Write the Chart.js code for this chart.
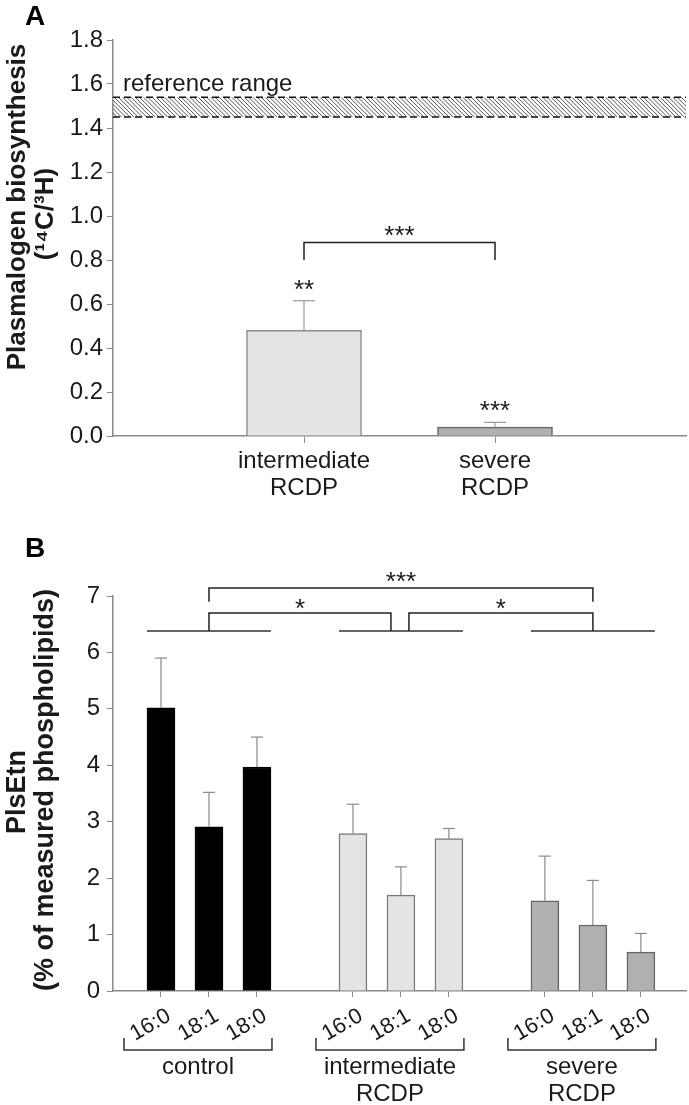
<!DOCTYPE html>
<html>
<head>
<meta charset="utf-8">
<script src="https://cdn.jsdelivr.net/npm/chart.js@4.4.1/dist/chart.umd.min.js"></script>
<style>
  html, body { margin: 0; padding: 0; background: #fff; }
  #wrap { position: relative; width: 689px; height: 1105px; }
  .panel { position: absolute; left: 0; width: 689px; }
</style>
</head>
<body>
<div id="wrap">
  <div class="panel" style="top:0;height:530px"><canvas id="chartA"></canvas></div>
  <div class="panel" style="top:530px;height:575px"><canvas id="chartB"></canvas></div>
</div>
<script>
// ---- panel A data ----
const categoriesA = [['intermediate', 'RCDP'], ['severe', 'RCDP']];
const valuesA = [0.48, 0.04];
const errorsA = [0.135, 0.022];
const starsA = ['**', '***'];
const yTicksA = [0, 0.2, 0.4, 0.6, 0.8, 1.0, 1.2, 1.4, 1.6, 1.8];
const refRange = [1.45, 1.54];

// ---- panel B data ----
const acylChains = ['16:0', '18:1', '18:0'];
const groupsB = [['control'], ['intermediate', 'RCDP'], ['severe', 'RCDP']];
const controlVals = [5.02, 2.91, 3.97];
const controlErr = [0.88, 0.61, 0.53];
const intermVals = [2.79, 1.70, 2.70];
const intermErr = [0.52, 0.50, 0.18];
const severeVals = [1.60, 1.17, 0.69];
const severeErr = [0.79, 0.79, 0.33];
const yTicksB = [0, 1, 2, 3, 4, 5, 6, 7];

const FONT = '"Liberation Sans", Arial, Helvetica, sans-serif';
const TXT = '#1a1a1a';
const AXIS = '#8a8a8a';

function stars(ctx, text, x, yc, size) {
  ctx.save();
  ctx.font = size + 'px ' + FONT;
  ctx.fillStyle = TXT;
  ctx.textAlign = 'center';
  ctx.textBaseline = 'alphabetic';
  const m = ctx.measureText(text);
  ctx.fillText(text, x, yc - (m.actualBoundingBoxDescent - m.actualBoundingBoxAscent) / 2);
  ctx.restore();
}

function vTitle(ctx, text, xBase, yc, size) {
  ctx.save();
  ctx.translate(xBase, yc);
  ctx.rotate(-Math.PI / 2);
  ctx.font = 'bold ' + size + 'px ' + FONT;
  ctx.fillStyle = TXT;
  ctx.textAlign = 'center';
  ctx.textBaseline = 'alphabetic';
  ctx.fillText(text, 0, 0);
  ctx.restore();
}

function panelLetter(ctx, text, x, y) {
  ctx.save();
  ctx.font = 'bold 28px ' + FONT;
  ctx.fillStyle = '#000';
  ctx.textBaseline = 'alphabetic';
  ctx.fillText(text, x, y);
  ctx.restore();
}

function line(ctx, pts, color, w) {
  ctx.save();
  ctx.strokeStyle = color;
  ctx.lineWidth = w;
  ctx.beginPath();
  pts.forEach((p, i) => i ? ctx.lineTo(p[0], p[1]) : ctx.moveTo(p[0], p[1]));
  ctx.stroke();
  ctx.restore();
}

function errorBars(chart, errs, capW, color) {
  const ctx = chart.ctx, ys = chart.scales.y;
  chart.data.datasets.forEach((ds, d) => {
    chart.getDatasetMeta(d).data.forEach((bar, i) => {
      const top = ys.getPixelForValue(ds.data[i].y + errs[d][i]);
      line(ctx, [[bar.x, bar.y], [bar.x, top]], color, 1.2);
      line(ctx, [[bar.x - capW / 2, top], [bar.x + capW / 2, top]], color, 1.2);
    });
  });
}

// ---- panel A ----
const panelA = {
  id: 'panelA',
  beforeDatasetsDraw(chart) {
    const ctx = chart.ctx, ys = chart.scales.y, a = chart.chartArea;
    const y1 = ys.getPixelForValue(refRange[1]), y0 = ys.getPixelForValue(refRange[0]);
    ctx.save();
    ctx.beginPath();
    ctx.rect(a.left, y1, a.right - a.left, y0 - y1);
    ctx.clip();
    ctx.strokeStyle = '#444';
    ctx.lineWidth = 0.9;
    const h = y0 - y1;
    for (let x = a.left - h; x < a.right; x += 4.2) {
      ctx.beginPath();
      ctx.moveTo(x, y1);
      ctx.lineTo(x + h, y0);
      ctx.stroke();
    }
    ctx.restore();
    ctx.save();
    ctx.setLineDash([7, 4]);
    line(ctx, [[a.left, y1], [a.right, y1]], '#111', 1.5);
    line(ctx, [[a.left, y0], [a.right, y0]], '#111', 1.5);
    ctx.restore();
    ctx.save();
    ctx.font = '24px ' + FONT;
    ctx.fillStyle = TXT;
    ctx.textBaseline = 'alphabetic';
    ctx.fillText('reference range', a.left + 10, y1 - 6);
    ctx.restore();
  },
  afterDatasetsDraw(chart) {
    const ctx = chart.ctx, ys = chart.scales.y, xs = chart.scales.x;
    errorBars(chart, [errorsA], 22, '#9a9a9a');
    valuesA.forEach((v, i) => {
      const top = ys.getPixelForValue(v + errorsA[i]);
      stars(ctx, starsA[i], xs.getPixelForValue(i + 1), top - 16, 26);
    });
    const xa = xs.getPixelForValue(1), xb = xs.getPixelForValue(2);
    const yb = ys.getPixelForValue(0.88), yl = ys.getPixelForValue(0.80);
    line(ctx, [[xa, yl], [xa, yb], [xb, yb], [xb, yl]], '#222', 1.5);
    stars(ctx, '***', (xa + xb) / 2, yb - 11, 26);
    vTitle(ctx, 'Plasmalogen biosynthesis', 25, 207, 26);
    vTitle(ctx, '(\u00b9\u2074C/\u00b3H)', 53, 214, 26);
    panelLetter(ctx, 'A', 25, 25);
  }
};

new Chart(document.getElementById('chartA'), {
  type: 'bar',
  data: {
    datasets: [{
      data: valuesA.map((v, i) => ({ x: i + 1, y: v })),
      backgroundColor: ['#e4e4e4', '#b1b1b1'],
      borderColor: ['#8c8c8c', '#666666'],
      borderWidth: 1.5,
      barThickness: 115
    }]
  },
  options: {
    responsive: true,
    maintainAspectRatio: false,
    animation: false,
    layout: { padding: { top: 40, right: 3, left: 0, bottom: 0 } },
    plugins: { legend: { display: false }, tooltip: { enabled: false } },
    scales: {
      x: {
        type: 'linear', min: 0, max: 3, offset: false,
        afterBuildTicks: s => { s.ticks = categoriesA.map((c, i) => ({ value: i + 1 })); },
        afterFit: s => { s.height = 94; },
        ticks: {
          callback: v => categoriesA[v - 1],
          font: { family: FONT, size: 24, lineHeight: 1.12 },
          color: TXT, padding: 5, maxRotation: 0, autoSkip: false
        },
        grid: { drawOnChartArea: false, offset: false, tickLength: 7, color: AXIS },
        border: { color: AXIS, width: 1.5 }
      },
      y: {
        min: 0, max: 1.8,
        afterBuildTicks: s => { s.ticks = yTicksA.map(v => ({ value: v })); },
        afterFit: s => { s.width = 113; },
        ticks: { callback: v => v.toFixed(1), font: { family: FONT, size: 24 }, color: TXT, padding: 4 },
        grid: { drawOnChartArea: false, tickLength: 6, color: AXIS },
        border: { color: AXIS, width: 1.5 }
      }
    }
  },
  plugins: [panelA]
});

// ---- panel B ----
const valsB = [controlVals, intermVals, severeVals];
const errsB = [controlErr, intermErr, severeErr];
const slot = (g, k) => g * 4 + k;
const tickSlots = [];
groupsB.forEach((g, gi) => acylChains.forEach((c, k) => tickSlots.push(slot(gi, k))));

const panelB = {
  id: 'panelB',
  afterDatasetsDraw(chart) {
    const ctx = chart.ctx, ys = chart.scales.y, a = chart.chartArea;
    errorBars(chart, errsB, 12, '#8a8a8a');
    const bars = [0, 1, 2].map(d => chart.getDatasetMeta(d).data);
    const base = ys.getPixelForValue(6.38);
    bars.forEach(b => {
      line(ctx, [[b[0].x - b[0].width / 2, base], [b[2].x + b[2].width / 2, base]], '#333', 1.5);
    });
    // * brackets
    const yS = ys.getPixelForValue(6.70);
    const xc = bars[0][1].x, xi = bars[1][1].x, xs = bars[2][1].x;
    line(ctx, [[xc, base], [xc, yS], [xi - 10, yS], [xi - 10, base]], '#222', 1.5);
    line(ctx, [[xi + 8, base], [xi + 8, yS], [xs, yS], [xs, base]], '#222', 1.5);
    stars(ctx, '*', (xc + xi - 10) / 2, yS - 9, 26);
    stars(ctx, '*', (xi + 8 + xs) / 2, yS - 9, 26);
    // *** bracket
    const yT = ys.getPixelForValue(7.14), yTl = ys.getPixelForValue(6.90);
    line(ctx, [[xc, yTl], [xc, yT], [xs, yT], [xs, yTl]], '#222', 1.5);
    stars(ctx, '***', (xc + xs) / 2, yT - 11, 26);
    // group brackets below axis
    bars.forEach((b, gi) => {
      const l = b[0].x - 37, r = b[2].x + 15;
      const yTop = a.bottom + 47, yBot = a.bottom + 59;
      line(ctx, [[l, yTop], [l, yBot], [r, yBot], [r, yTop]], '#333', 1.5);
      ctx.save();
      ctx.font = '24px ' + FONT;
      ctx.fillStyle = TXT;
      ctx.textAlign = 'center';
      ctx.textBaseline = 'middle';
      groupsB[gi].forEach((t, li) => ctx.fillText(t, (l + r) / 2, a.bottom + 76 + li * 27));
      ctx.restore();
    });
    vTitle(ctx, 'PlsEtn', 25, 262, 27);
    vTitle(ctx, '(% of measured phospholipids)', 53, 260, 27);
    panelLetter(ctx, 'B', 25, 27);
  }
};

const fills = ['#000000', '#e4e4e4', '#b0b0b0'];
const borders = ['#000000', '#7a7a7a', '#666666'];

new Chart(document.getElementById('chartB'), {
  type: 'bar',
  data: {
    datasets: valsB.map((vals, g) => ({
      data: vals.map((v, k) => ({ x: slot(g, k), y: v })),
      backgroundColor: fills[g],
      borderColor: borders[g],
      borderWidth: 1.5,
      barThickness: 28,
      grouped: false
    }))
  },
  options: {
    responsive: true,
    maintainAspectRatio: false,
    animation: false,
    layout: { padding: { top: 66, right: 3, left: 0, bottom: 0 } },
    plugins: { legend: { display: false }, tooltip: { enabled: false } },
    scales: {
      x: {
        type: 'linear', min: -1, max: 10.94, offset: false,
        afterBuildTicks: s => { s.ticks = tickSlots.map(v => ({ value: v })); },
        afterFit: s => { s.height = 114; },
        ticks: {
          callback: v => acylChains[v % 4],
          font: { family: FONT, size: 22 },
          color: TXT, padding: 6, labelOffset: 8,
          minRotation: 30, maxRotation: 30, autoSkip: false
        },
        grid: { drawOnChartArea: false, offset: false, tickLength: 6, color: AXIS },
        border: { color: AXIS, width: 1.5 }
      },
      y: {
        min: 0, max: 7,
        afterBuildTicks: s => { s.ticks = yTicksB.map(v => ({ value: v })); },
        afterFit: s => { s.width = 113; },
        ticks: { font: { family: FONT, size: 24 }, color: TXT, padding: 7 },
        grid: { drawOnChartArea: false, tickLength: 6, color: AXIS },
        border: { color: AXIS, width: 1.5 }
      }
    }
  },
  plugins: [panelB]
});
</script>
</body>
</html>
